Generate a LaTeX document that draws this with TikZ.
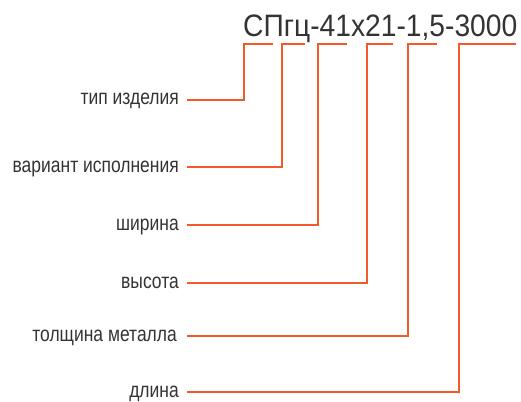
\documentclass[tikz,border=0pt]{standalone}
\usepackage{fontspec}
\setmainfont{Liberation Sans}[FakeStretch=0.82]
\newfontfamily\titlefont{Liberation Sans}[FakeStretch=0.91]
\begin{document}
\begin{tikzpicture}[x=1pt,y=-1pt,
  lbl/.style={anchor=base east,inner sep=0pt,text=black!80,font=\fontsize{21.3}{24}\selectfont},
  conn/.style={draw=lineorange,line width=1.1pt}]
\definecolor{lineorange}{HTML}{F25A2A}
\useasboundingbox (0,0) rectangle (521,401);
\node[anchor=base west,inner sep=0pt,text=black!80,font=\titlefont\fontsize{31}{34}\selectfont] (title) at (243,37) {СПгц-41х21-1,5-3000};
\node[lbl] (l1) at (179,105) {тип изделия};
\node[lbl] (l2) at (179,172) {вариант исполнения};
\node[lbl] (l3) at (179,230) {ширина};
\node[lbl] (l4) at (179,288) {высота};
\node[lbl] (l5) at (177,341) {толщина металла};
\node[lbl] (l6) at (179,397) {длина};
\foreach \i/\y/\a/\b in {1/100/244/273, 2/167/282/305, 3/225/318/347, 4/283/367/393, 5/336/408/437, 6/392/459/516}{
  \coordinate (s\i) at (187,\y);
  \coordinate (b\i) at (\a,44);
  \coordinate (c\i) at (\b,44);
  \draw[conn] (s\i) -| (b\i) -- (c\i);
}
\end{tikzpicture}
\end{document}
